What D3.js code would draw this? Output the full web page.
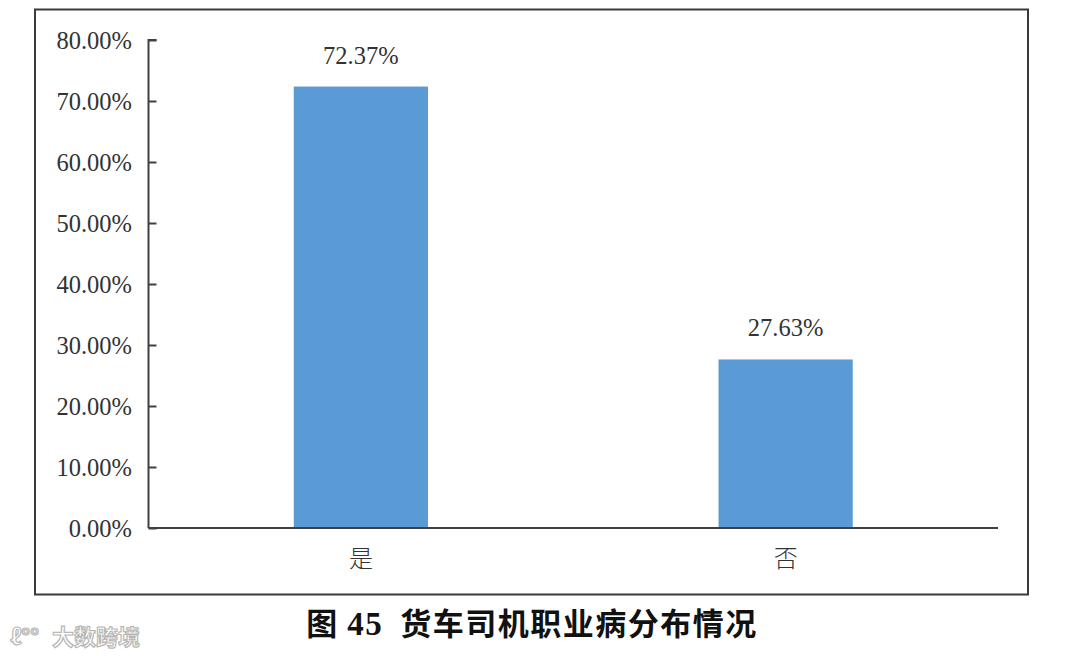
<!DOCTYPE html>
<html>
<head>
<meta charset="utf-8">
<script src="https://cdn.jsdelivr.net/npm/d3@7"></script>
<style>
  html, body { margin: 0; padding: 0; background: #ffffff; }
  svg { display: block; }
</style>
</head>
<body>
<svg id="chart" width="1080" height="656"></svg>
<script>
const categories = ["是", "否"];
const values = [72.37, 27.63];
const tickValues = [0, 10, 20, 30, 40, 50, 60, 70, 80];
const titleParts = ["图 ", "45", "  货车司机职业病分布情况"];
const watermark = "大数跨境";

const svg = d3.select("#chart");
const W = 1080, H = 656;
const plot = { left: 148.5, right: 998, top: 40, bottom: 528 };

svg.append("rect").attr("width", W).attr("height", H).attr("fill", "#ffffff");

// outer frame
svg.append("rect")
  .attr("x", 35).attr("y", 9.5).attr("width", 993).attr("height", 585)
  .attr("fill", "none").attr("stroke", "#3a3a3a").attr("stroke-width", 2);

const x = d3.scaleBand().domain(categories)
  .range([plot.left, plot.right])
  .paddingInner(0.684).paddingOuter(0.342);
const y = d3.scaleLinear().domain([0, 80]).range([plot.bottom, plot.top]);

const serif = "'Liberation Serif', 'Times New Roman', serif";
const cjk = "'Noto Sans CJK SC', sans-serif";

// bars
svg.append("g").selectAll("rect").data(values).join("rect")
  .attr("x", (d, i) => x(categories[i]))
  .attr("y", d => y(d))
  .attr("width", x.bandwidth())
  .attr("height", d => y(0) - y(d))
  .attr("fill", "#5b9bd5");

// y axis (ticks inward)
const yAxis = d3.axisRight(y).tickValues(tickValues).tickSize(8).tickFormat("");
const gy = svg.append("g").attr("transform", `translate(${plot.left},0)`).call(yAxis);
gy.select(".domain").attr("stroke", "#404040").attr("stroke-width", 2)
  .attr("d", `M8,${y(80)}H0V${y(0)}`);
gy.selectAll(".tick line").attr("stroke", "#404040").attr("stroke-width", 2);

// y tick labels
svg.append("g").selectAll("text").data(tickValues).join("text")
  .attr("x", 132)
  .attr("y", d => y(d) + 9)
  .attr("text-anchor", "end")
  .attr("font-family", serif)
  .attr("font-size", 24.5)
  .attr("fill", "#333333")
  .text(d => d.toFixed(2) + "%");

// x axis
const xAxis = d3.axisBottom(x).tickSize(0).tickFormat("");
const gx = svg.append("g").attr("transform", `translate(0,${plot.bottom})`).call(xAxis);
gx.select(".domain").attr("stroke", "#404040").attr("stroke-width", 2)
  .attr("d", `M${plot.left},0H${plot.right}`);

// category labels
svg.append("g").selectAll("text").data(categories).join("text")
  .attr("x", d => x(d) + x.bandwidth() / 2)
  .attr("y", 567)
  .attr("text-anchor", "middle")
  .attr("font-family", cjk)
  .attr("font-weight", 300)
  .attr("font-size", 24)
  .attr("fill", "#333333")
  .text(d => d);

// value labels
svg.append("g").selectAll("text").data(values).join("text")
  .attr("x", (d, i) => x(categories[i]) + x.bandwidth() / 2)
  .attr("y", d => y(d) - 23)
  .attr("text-anchor", "middle")
  .attr("font-family", serif)
  .attr("font-size", 24.5)
  .attr("fill", "#333333")
  .text(d => d.toFixed(2) + "%");

// title
const t = svg.append("text")
  .attr("x", 532).attr("y", 635)
  .attr("text-anchor", "middle")
  .attr("font-family", cjk)
  .attr("font-weight", 700)
  .attr("font-size", 31)
  .attr("letter-spacing", 1.5)
  .attr("fill", "#111111")
  .style("white-space", "pre");
t.append("tspan").text(titleParts[0]);
t.append("tspan").attr("font-family", serif).attr("font-size", 33).text(titleParts[1]);
t.append("tspan").text(titleParts[2]);

// watermark
const wm = svg.append("g").attr("opacity", 0.9);
wm.append("text")
  .attr("x", 10).attr("y", 645)
  .attr("font-family", cjk)
  .attr("font-weight", 700)
  .attr("font-size", 22)
  .attr("fill", "#ffffff").attr("stroke", "#b0b0b0").attr("stroke-width", 1.2)
  .text("ℓ°°");
wm.append("text")
  .attr("x", 52).attr("y", 645)
  .attr("font-family", cjk)
  .attr("font-weight", 700)
  .attr("font-size", 22)
  .attr("fill", "#ffffff").attr("stroke", "#b0b0b0").attr("stroke-width", 1.2)
  .text(watermark);
</script>
</body>
</html>
